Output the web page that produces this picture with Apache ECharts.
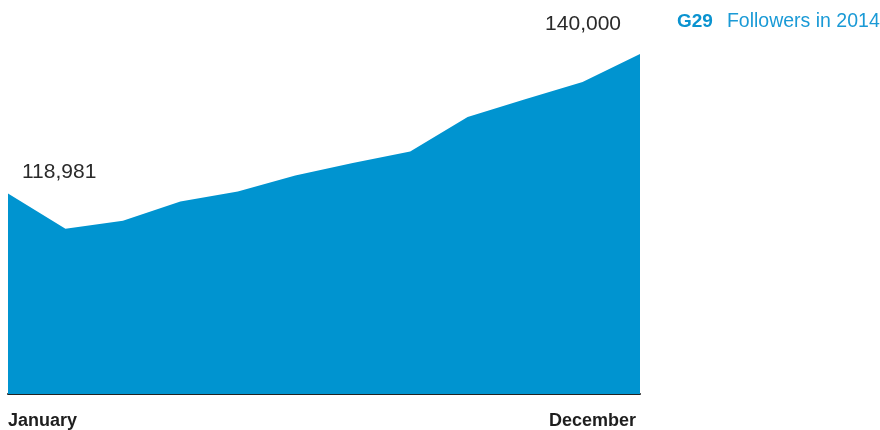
<!DOCTYPE html>
<html>
<head>
<meta charset="utf-8">
<script src="https://cdn.jsdelivr.net/npm/echarts@6/dist/echarts.min.js"></script>
<style>html,body{margin:0;padding:0;background:#fff}#c{width:880px;height:430px}</style>
</head>
<body>
<div id="c"></div>
<script>
const months = ['January','February','March','April','May','June','July','August','September','October','November','December'];
const followers = [118981, 113700, 114900, 117800, 119300, 121700, 123600, 125300, 130500, 133200, 135800, 140000];
const seriesName = 'Followers in 2014';
const brand = 'G29';
const yMin = 88800, yMax = 140000;

const chart = echarts.init(document.getElementById('c'));
const fontFamily = '"Liberation Sans", Arial, sans-serif';
const data = followers.map((v, i) => {
  if (i === 0) return {value: v, label: {show: true, position: 'top', align: 'left', offset: [14, -6]}};
  if (i === followers.length - 1) return {value: v, label: {show: true, position: 'top', align: 'right', offset: [-19, -14]}};
  return v;
});
chart.setOption({
  animation: false,
  grid: {left: 8, right: 240, top: 54, bottom: 35},
  legend: {
    left: 672, top: 12, padding: 0, itemWidth: 0, itemHeight: 0, icon: 'none',
    data: [seriesName],
    formatter: n => '{b|' + brand + '}{n|' + n + '}',
    textStyle: {
      rich: {
        b: {fontFamily, fontSize: 19, fontWeight: 'bold', color: '#0a93d0', padding: [0, 14, 0, 0]},
        n: {fontFamily, fontSize: 19.5, color: '#1a9ad6'}
      }
    }
  },
  xAxis: {
    type: 'category', data: months, boundaryGap: false,
    axisLine: {lineStyle: {color: '#222', width: 2}},
    axisTick: {show: false},
    axisLabel: {
      interval: (i) => i === 0 || i === months.length - 1,
      alignMinLabel: 'left', alignMaxLabel: 'right',
      padding: [0, 4, 0, 0],
      fontFamily, fontSize: 18, fontWeight: 'bold', color: '#1e1e1e', margin: 18
    }
  },
  yAxis: {type: 'value', min: yMin, max: yMax, show: false, splitLine: {show: false}},
  series: [{
    name: seriesName, type: 'line', data,
    showSymbol: true, symbolSize: 0, symbol: 'circle',
    lineStyle: {width: 0},
    itemStyle: {color: '#0094d0'},
    areaStyle: {color: '#0094d0', opacity: 1, origin: 'start'},
    label: {show: false, formatter: p => p.value.toLocaleString('en-US'), fontFamily, fontSize: 21, color: '#2a2a2a'},
    emphasis: {disabled: true}
  }]
});
</script>
</body>
</html>
